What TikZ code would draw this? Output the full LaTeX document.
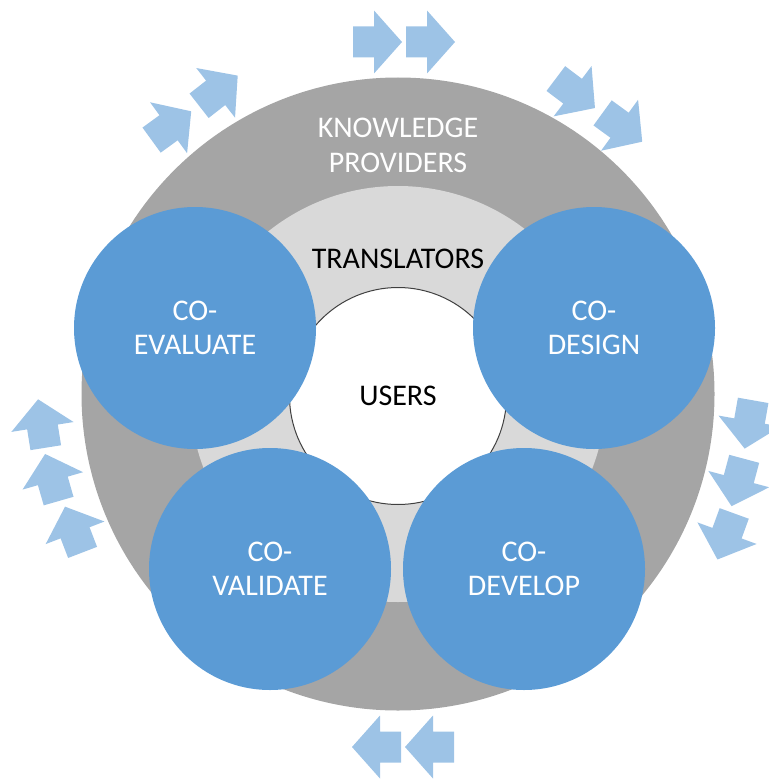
\documentclass[tikz,border=0pt]{standalone}
\usepackage{fontspec}
\setmainfont{Carlito}
\definecolor{phaseblue}{HTML}{5B9BD5}
\definecolor{flowblue}{HTML}{9DC3E6}
\definecolor{ringgray}{HTML}{A5A5A5}
\definecolor{innergray}{HTML}{D9D9D9}

\tikzset{
	disc/.style={circle, inner sep=0pt},
	phase/.style={disc, fill=phaseblue, minimum size=242pt, text=white, align=center, font=\fontsize{30}{34}\selectfont},
	label text/.style={align=center, font=\fontsize{30}{35}\selectfont},
	flowarrow/.pic={
		\fill[flowblue] (-24,-15.5) -- (-3,-15.5) -- (-3,-31.5) -- (25,0) -- (-3,31.5) -- (-3,15.5) -- (-24,15.5) -- cycle;
	}
}

\begin{document}
\begin{tikzpicture}[x=1pt, y=-1pt]
		\useasboundingbox (0,0) rectangle (768,781);

		\node[disc, fill=ringgray, minimum size=633pt] (providers) at (398,394) {};
		\node[disc, fill=innergray, minimum size=416pt] (translators) at (398,394) {};
		\node[disc, fill=white, draw=black!75, line width=1pt, minimum size=217pt, label text] (users) at (398,396) {USERS};

		\node[label text, text=white] (providerslabel) at (398,145) {KNOWLEDGE\\PROVIDERS};
		\node[label text] (translatorslabel) at (398,259) {TRANSLATORS};

		\node[phase] (coevaluate) at (195,328) {CO-\\EVALUATE};
		\node[phase] (codesign) at (594,328) {CO-\\DESIGN};
		\node[phase] (covalidate) at (270,569) {CO-\\VALIDATE};
		\node[phase] (codevelop) at (524,569) {CO-\\DEVELOP};

		\pic[rotate=0] at (377,42) {flowarrow};
		\pic[rotate=0] at (430,42) {flowarrow};
		\pic[rotate=-37] at (575,93) {flowarrow};
		\pic[rotate=-36] at (622,127) {flowarrow};
		\pic[rotate=-100] at (749,424) {flowarrow};
		\pic[rotate=-105] at (738,482) {flowarrow};
		\pic[rotate=-110] at (726,536) {flowarrow};
		\pic[rotate=180] at (377,747) {flowarrow};
		\pic[rotate=180] at (430,747) {flowarrow};
		\pic[rotate=111] at (74,530) {flowarrow};
		\pic[rotate=106] at (52,478) {flowarrow};
		\pic[rotate=99] at (42,424) {flowarrow};
		\pic[rotate=36] at (171,126) {flowarrow};
		\pic[rotate=38] at (218,91) {flowarrow};
\end{tikzpicture}
\end{document}
